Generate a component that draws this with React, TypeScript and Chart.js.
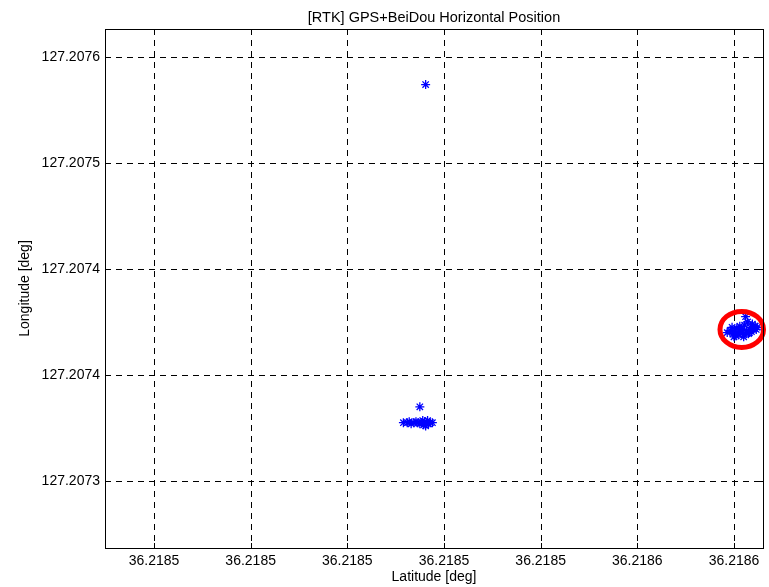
import React, { useEffect, useRef } from "react";
import { Chart, registerables } from "chart.js";
Chart.register(...registerables);

// Axis tick positions (grid units) and their printed labels
const xTickPos = [0, 1, 2, 3, 4, 5, 6];
const xTickLabels = ["36.2185", "36.2185", "36.2185", "36.2185", "36.2185", "36.2186", "36.2186"];
const yTickPos = [0, 1, 2, 3, 4];
const yTickLabels = ["127.2073", "127.2074", "127.2074", "127.2075", "127.2076"];

// Positions in grid units (latitude steps along x, longitude steps along y)
const outlierX = [2.81];
const outlierY = [3.74];
const clusterAX = [2.58, 2.62, 2.66, 2.69, 2.73, 2.75, 2.77, 2.79, 2.80, 2.82, 2.84, 2.86, 2.88, 2.75, 2.71, 2.64, 2.78, 2.81, 2.83];
const clusterAY = [0.55, 0.55, 0.54, 0.55, 0.55, 0.54, 0.55, 0.53, 0.56, 0.55, 0.54, 0.55, 0.55, 0.70, 0.56, 0.56, 0.57, 0.52, 0.57];
const clusterBX = [5.93, 5.96, 5.99, 6.01, 6.03, 6.05, 6.07, 6.09, 6.11, 6.13, 6.15, 6.17, 6.19, 6.21, 6.23, 5.98, 6.02, 6.06, 6.10, 6.14, 6.18, 6.22, 6.12, 6.08, 6.04, 6.00, 6.16, 6.20, 6.10, 6.24];
const clusterBY = [1.40, 1.42, 1.39, 1.41, 1.44, 1.38, 1.43, 1.40, 1.47, 1.42, 1.39, 1.45, 1.48, 1.44, 1.43, 1.45, 1.37, 1.46, 1.38, 1.50, 1.41, 1.46, 1.55, 1.42, 1.40, 1.36, 1.40, 1.43, 1.36, 1.45];
const ellipseCenter = [6.08, 1.43];
const ellipseRadius = [0.225, 0.17];

const FONT = "'Liberation Sans', Arial, sans-serif";

export default function App() {
  const ref = useRef<HTMLCanvasElement | null>(null);
  useEffect(() => {
    document.body.style.margin = "0";
    const pts = (xs: number[], ys: number[]) => xs.map((x, i) => ({ x, y: ys[i] }));
    const data = [...pts(outlierX, outlierY), ...pts(clusterAX, clusterAY), ...pts(clusterBX, clusterBY)];

    const frame = {
      id: "frame",
      beforeDatasetsDraw(chart: any) {
        const { ctx, chartArea: a, scales } = chart;
        ctx.save();
        ctx.strokeStyle = "#000";
        ctx.lineWidth = 1;
        ctx.setLineDash([6, 5]);
        xTickPos.forEach((v) => {
          const px = Math.round(scales.x.getPixelForValue(v)) + 0.5;
          ctx.beginPath();
          ctx.moveTo(px, a.top);
          ctx.lineTo(px, a.bottom);
          ctx.stroke();
        });
        yTickPos.forEach((v) => {
          const py = Math.round(scales.y.getPixelForValue(v)) + 0.5;
          ctx.beginPath();
          ctx.moveTo(a.left, py);
          ctx.lineTo(a.right, py);
          ctx.stroke();
        });
        ctx.restore();
      },
      afterDatasetsDraw(chart: any) {
        const { ctx, chartArea: a, scales } = chart;
        ctx.save();
        const cx = scales.x.getPixelForValue(ellipseCenter[0]);
        const cy = scales.y.getPixelForValue(ellipseCenter[1]);
        const rx = Math.abs(scales.x.getPixelForValue(ellipseCenter[0] + ellipseRadius[0]) - cx);
        const ry = Math.abs(scales.y.getPixelForValue(ellipseCenter[1] + ellipseRadius[1]) - cy);
        ctx.strokeStyle = "#ff0000";
        ctx.lineWidth = 5;
        ctx.beginPath();
        ctx.ellipse(cx, cy, rx, ry, 0, 0, Math.PI * 2);
        ctx.stroke();
        ctx.strokeStyle = "#000";
        ctx.lineWidth = 1;
        ctx.setLineDash([]);
        ctx.strokeRect(Math.round(a.left) + 0.5, Math.round(a.top) + 0.5, Math.round(a.right - a.left), Math.round(a.bottom - a.top));
        const tl = 5;
        ctx.beginPath();
        xTickPos.forEach((v) => {
          const px = Math.round(scales.x.getPixelForValue(v)) + 0.5;
          ctx.moveTo(px, a.bottom); ctx.lineTo(px, a.bottom - tl);
          ctx.moveTo(px, a.top); ctx.lineTo(px, a.top + tl);
        });
        yTickPos.forEach((v) => {
          const py = Math.round(scales.y.getPixelForValue(v)) + 0.5;
          ctx.moveTo(a.left, py); ctx.lineTo(a.left + tl, py);
          ctx.moveTo(a.right, py); ctx.lineTo(a.right - tl, py);
        });
        ctx.stroke();
        ctx.fillStyle = "#000";
        ctx.font = `14.5px ${FONT}`;
        ctx.textAlign = "center";
        ctx.textBaseline = "middle";
        ctx.fillText("[RTK] GPS+BeiDou Horizontal Position", (a.left + a.right) / 2, 18);
        ctx.restore();
      },
    };

    const chart = new Chart(ref.current as HTMLCanvasElement, {
      type: "scatter",
      data: {
        datasets: [
          {
            data,
            pointStyle: "star",
            pointRadius: 4.5,
            borderColor: "#0000ff",
            backgroundColor: "#0000ff",
            borderWidth: 1.3,
          },
        ],
      },
      options: {
        animation: false,
        responsive: false,
        layout: { padding: { left: 0, right: 6, top: 29, bottom: 0 } },
        plugins: { legend: { display: false }, tooltip: { enabled: false } },
        scales: {
          x: {
            type: "linear",
            min: -0.507,
            max: 6.3,
            afterBuildTicks: (s: any) => { s.ticks = xTickPos.map((v) => ({ value: v })); },
            afterFit: (s: any) => { s.height = 39; },
            grid: { display: false, drawTicks: false },
            border: { display: false },
            ticks: {
              color: "#000",
              font: { family: FONT, size: 14 },
              padding: 5,
              maxRotation: 0,
              callback: (v: any) => xTickLabels[xTickPos.indexOf(Number(v))] ?? "",
            },
            title: { display: true, text: "Latitude [deg]", color: "#000", font: { family: FONT, size: 14 }, padding: { top: 0, bottom: 1 } },
          },
          y: {
            type: "linear",
            min: -0.632,
            max: 4.264,
            afterBuildTicks: (s: any) => { s.ticks = yTickPos.map((v) => ({ value: v })); },
            afterFit: (s: any) => { s.width = 105; },
            grid: { display: false, drawTicks: false },
            border: { display: false },
            ticks: {
              color: "#000",
              font: { family: FONT, size: 14 },
              padding: 5,
              callback: (v: any) => yTickLabels[yTickPos.indexOf(Number(v))] ?? "",
            },
            title: { display: true, text: "Longitude [deg]", color: "#000", font: { family: FONT, size: 14 }, padding: { top: 17, bottom: 0 } },
          },
        },
      },
      plugins: [frame],
    });
    return () => chart.destroy();
  }, []);
  return <canvas ref={ref} width={769} height={587} style={{ display: "block" }} />;
}
